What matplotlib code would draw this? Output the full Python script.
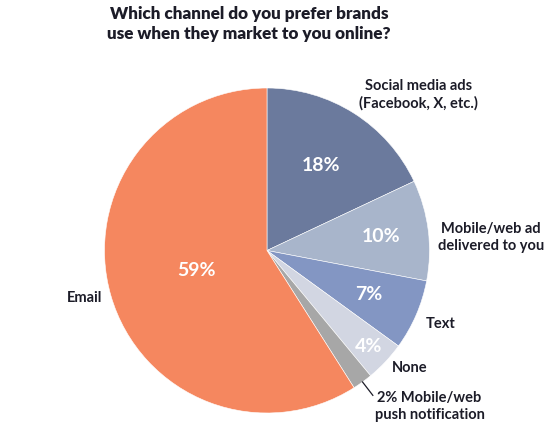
import matplotlib.pyplot as plt
import numpy as np

title = 'Which channel do you prefer brands\nuse when they market to you online?'
channels = ['Social media ads\n(Facebook, X, etc.)', 'Mobile/web ad\ndelivered to you',
            'Text', 'None', '2% Mobile/web\npush notification', 'Email']
shares = [18, 10, 7, 4, 2, 59]
pct_labels = ['18%', '10%', '7%', '4%', '', '59%']

colors = ['#6b7a9d', '#a8b5cb', '#8396c3', '#d2d6e2', '#a7a7a7', '#f5875f']
# where the outside labels sit (pie radius = 1)
label_pos = [(0.93, 0.96), (1.38, 0.08), (1.07, -0.45), (0.88, -0.72), (1.0, -0.96), (-1.12, -0.29)]
pct_dist = [0.62, 0.71, 0.68, 0.86, 0, 0.45]

plt.rcParams['font.family'] = ['Lato', 'DejaVu Sans']
dark = '#1c1c28'

fig = plt.figure(figsize=(5.58, 4.36), dpi=100)
ax = fig.add_axes([104 / 558, 23 / 436, 326 / 558, 325 / 436])

wedges, _ = ax.pie(shares, colors=colors, startangle=90, counterclock=False,
                   wedgeprops=dict(edgecolor='white', linewidth=0.4))
ax.set_xlim(-1, 1)
ax.set_ylim(-1, 1)
ax.set_aspect('equal')
ax.axis('off')

for w, lab, d in zip(wedges, pct_labels, pct_dist):
    if not lab:
        continue
    ang = np.deg2rad((w.theta1 + w.theta2) / 2)
    ax.text(d * np.cos(ang), d * np.sin(ang), lab, color='white', fontsize=14,
            fontweight='bold', ha='center', va='center')

for w, lab, (x, y) in zip(wedges, channels, label_pos):
    ax.text(x, y, lab, color=dark, fontsize=10.5, fontweight='bold',
            ha='center', va='center', linespacing=1.25)

# leader line for the small push slice
w = wedges[4]
ang = np.deg2rad((w.theta1 + w.theta2) / 2)
ax.plot([np.cos(ang), 1.04 * np.cos(ang) + 0.04], [np.sin(ang), 1.04 * np.sin(ang) - 0.05],
        color=dark, lw=0.9, clip_on=False)

fig.text(249 / 558, 1 - 24 / 436, title, ha='center', va='center', fontsize=12.3,
         fontweight='heavy', color=dark, linespacing=1.3)

fig.savefig('out.png', dpi=100)
